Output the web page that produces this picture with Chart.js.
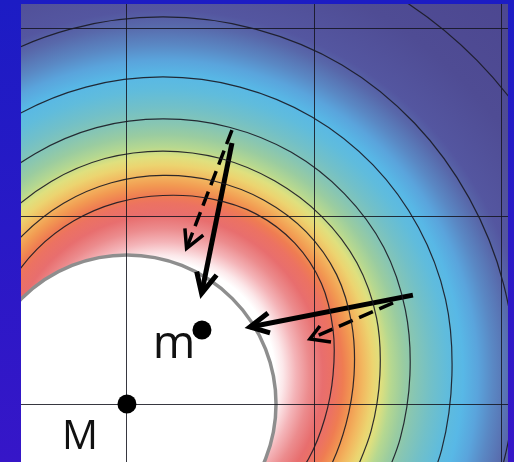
<!DOCTYPE html>
<html>
<head>
<meta charset="utf-8">
<script src="https://cdn.jsdelivr.net/npm/chart.js@4/dist/chart.umd.min.js"></script>
<style>
  html, body { margin: 0; padding: 0; }
  body { width: 514px; height: 462px; overflow: hidden; background: linear-gradient(to bottom, #1c1cc4, #3616c8); }
  canvas { display: block; }
</style>
</head>
<body>
<canvas id="field" width="514" height="462"></canvas>
<script>
// Units: one grid square = 1, big mass M at the origin
const massM = [[0, 0]];
const massm = [[0.4, 0.395]];
const massLabels = ['M', 'm'];

// Equipotential contours, every 15 degrees round the field centre (innermost first)
const contour1 = [[-0.725, 0.401], [-0.630, 0.629], [-0.479, 0.826], [-0.283, 0.977], [-0.054, 1.074], [0.192, 1.112],
  [0.444, 1.095], [0.688, 1.014], [0.895, 0.858], [1.037, 0.643], [1.099, 0.398], [1.099, 0.155], [1.055, -0.077],
  [0.968, -0.293], [0.829, -0.483]];
const contour2 = [[-0.828, 0.428], [-0.723, 0.683], [-0.555, 0.901], [-0.338, 1.071], [-0.083, 1.180], [0.192, 1.219],
  [0.469, 1.188], [0.731, 1.087], [0.956, 0.918], [1.118, 0.690], [1.199, 0.425], [1.211, 0.155], [1.168, -0.107],
  [1.074, -0.355], [0.920, -0.573]];
const contour3 = [[-0.957, 0.462], [-0.838, 0.749], [-0.649, 0.996], [-0.404, 1.187], [-0.117, 1.309], [0.192, 1.349],
  [0.501, 1.309], [0.789, 1.189], [1.038, 1.001], [1.227, 0.752], [1.331, 0.460], [1.349, 0.155], [1.302, -0.143],
  [1.194, -0.424]];
const contour4 = [[-0.986, 0.835], [-0.770, 1.116], [-0.490, 1.335], [-0.162, 1.474], [0.192, 1.520], [0.546, 1.476],
  [0.877, 1.342], [1.159, 1.122], [1.370, 0.835], [1.485, 0.501], [1.509, 0.155], [1.457, -0.184], [1.331, -0.503]];
const contour5 = [[-0.932, 1.278], [-0.603, 1.531], [-0.219, 1.690], [0.192, 1.744], [0.603, 1.690], [0.987, 1.531],
  [1.312, 1.275], [1.555, 0.941], [1.699, 0.558], [1.733, 0.155], [1.678, -0.244], [1.531, -0.619]];
const contour6 = [[-1.156, 1.503], [-0.762, 1.806], [-0.302, 1.999], [0.192, 2.064], [0.686, 1.999], [1.147, 1.808],
  [1.534, 1.497], [1.825, 1.098], [2.008, 0.641], [2.069, 0.155], [2.003, -0.331], [1.818, -0.784]];
const contour7 = [[0.806, 2.447], [1.379, 2.210], [1.868, 1.831], [2.238, 1.336], [2.469, 0.765]];
const contours = [contour1, contour2, contour3, contour4, contour5, contour6, contour7];

// Force arrows: shaft tail -> tip, head as wing / tip / wing
const solidShaftA = [[0.56, 1.392], [0.398, 0.59]];
const solidHeadA = [[0.372, 0.706], [0.398, 0.59], [0.478, 0.688]];
const dashShaftA = [[0.56, 1.461], [0.318, 0.83]];
const dashHeadA = [[0.309, 0.937], [0.318, 0.83], [0.407, 0.901]];
const solidShaftB = [[1.525, 0.581], [0.656, 0.411]];
const solidHeadB = [[0.752, 0.485], [0.656, 0.411], [0.763, 0.379]];
const dashShaftB = [[1.419, 0.539], [0.976, 0.347]];
const dashHeadB = [[1.029, 0.416], [0.976, 0.347], [1.088, 0.331]];

// Colour map of the potential: radius from the field centre (units) and colour
const fieldCentre = [0.192, 0.155];
const stopRadius = [0, 0.597, 0.640, 0.709, 0.779, 0.853, 0.917, 0.96, 1.013, 1.067, 1.12, 1.163, 1.216, 1.28,
  1.339, 1.429, 1.52, 1.6, 1.68, 1.76, 1.867, 1.947, 2.24, 2.773];
const stopColor = ['#ffffff', '#ffffff', '#fce8ea', '#f4b4b8', '#ec8c8e', '#e86e6e', '#ec7262', '#ef7c52',
  '#f29a52', '#f2b860', '#ecd470', '#dfe07e', '#b6d890', '#9acca0', '#88c6b2', '#72c0c8', '#60bcdc', '#58b8e6',
  '#5aa4dc', '#5a88c4', '#5868aa', '#5456a0', '#4f4c94', '#4c4690'];
const diskRadius = 0.795;

const toXY = pts => pts.map(p => ({ x: p[0], y: p[1] }));

// Colour field and the white disk round M, under the grid
const backdrop = {
  id: 'backdrop',
  beforeDraw(chart) {
    const { ctx, chartArea: a, scales: { x, y } } = chart;
    const ppu = x.getPixelForValue(1) - x.getPixelForValue(0);
    const gx = x.getPixelForValue(fieldCentre[0]);
    const gy = y.getPixelForValue(fieldCentre[1]);
    const rMax = stopRadius[stopRadius.length - 1] * ppu;
    const grad = ctx.createRadialGradient(gx, gy, 0, gx, gy, rMax);
    stopRadius.forEach((r, i) => grad.addColorStop(r * ppu / rMax, stopColor[i]));

    ctx.save();
    ctx.beginPath();
    ctx.rect(a.left, a.top, a.width, a.height);
    ctx.clip();
    ctx.fillStyle = grad;
    ctx.fillRect(a.left, a.top, a.width, a.height);

    ctx.beginPath();
    ctx.arc(x.getPixelForValue(massM[0][0]), y.getPixelForValue(massM[0][1]), diskRadius * ppu, 0, Math.PI * 2);
    ctx.fillStyle = '#ffffff';
    ctx.fill();
    ctx.lineWidth = 3.5;
    ctx.strokeStyle = '#8e8e8e';
    ctx.stroke();
    ctx.restore();
  }
};

// Mass labels
const labels = {
  id: 'labels',
  afterDatasetsDraw(chart) {
    const { ctx, scales: { x, y } } = chart;
    ctx.save();
    ctx.fillStyle = '#111111';
    ctx.textAlign = 'center';
    ctx.textBaseline = 'alphabetic';
    ctx.font = '40px "Open Sans"';
    ctx.fillText(massLabels[0], x.getPixelForValue(massM[0][0]) - 47, y.getPixelForValue(massM[0][1]) + 45);
    ctx.font = '46px "Open Sans"';
    ctx.fillText(massLabels[1], x.getPixelForValue(massm[0][0]) - 28, y.getPixelForValue(massm[0][1]) + 28);
    ctx.restore();
  }
};

const datasets = [];
contours.forEach(c => {
  datasets.push({
    data: toXY(c), showLine: true, pointRadius: 0, borderColor: 'rgba(25,25,35,0.9)',
    borderWidth: 1.2, tension: 0.34, capBezierPoints: false, fill: false
  });
});
[solidShaftA, solidShaftB].forEach(s => {
  datasets.push({ data: toXY(s), showLine: true, pointRadius: 0, borderColor: '#000', borderWidth: 5, borderCapStyle: 'butt' });
});
[solidHeadA, solidHeadB].forEach(h => {
  datasets.push({ data: toXY(h), showLine: true, pointRadius: 0, borderColor: '#000', borderWidth: 5, borderJoinStyle: 'miter' });
});
[dashShaftA, dashShaftB].forEach(s => {
  datasets.push({ data: toXY(s), showLine: true, pointRadius: 0, borderColor: '#000', borderWidth: 3.5, borderDash: [15, 7] });
});
[dashHeadA, dashHeadB].forEach(h => {
  datasets.push({ data: toXY(h), showLine: true, pointRadius: 0, borderColor: '#000', borderWidth: 3.5, borderJoinStyle: 'miter' });
});
datasets.push({
  data: toXY(massM.concat(massm)), showLine: false, pointRadius: 9.5, pointBackgroundColor: '#000',
  pointBorderWidth: 0, clip: false
});

const gridColor = ctx => (ctx.tick && Number.isInteger(ctx.tick.value)) ? 'rgba(20,20,30,0.85)' : 'rgba(0,0,0,0)';

new Chart(document.getElementById('field').getContext('2d'), {
  type: 'scatter',
  data: { datasets: datasets },
  options: {
    responsive: false,
    animation: false,
    layout: { autoPadding: false, padding: { left: 21, right: 6, top: 4, bottom: 0 } },
    elements: { line: { capBezierPoints: false } },
    plugins: { legend: { display: false }, tooltip: { enabled: false } },
    scales: {
      x: {
        type: 'linear', min: -0.565, max: 2.032,
        ticks: { display: false, stepSize: 1, includeBounds: false },
        grid: { color: gridColor, lineWidth: 1, drawTicks: false },
        border: { display: false }
      },
      y: {
        type: 'linear', min: -0.309, max: 2.133,
        ticks: { display: false, stepSize: 1, includeBounds: false },
        grid: { color: gridColor, lineWidth: 1, drawTicks: false },
        border: { display: false }
      }
    }
  },
  plugins: [backdrop, labels]
});
</script>
</body>
</html>
